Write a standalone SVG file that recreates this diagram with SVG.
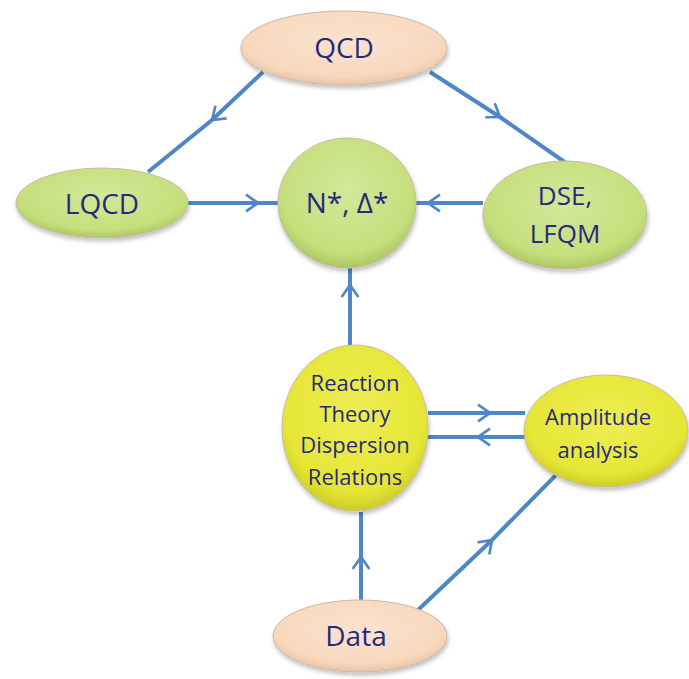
<svg xmlns="http://www.w3.org/2000/svg" width="689" height="679" viewBox="0 0 689 679">
<style>
.c{fill:none;stroke:#4f86c6;stroke-width:4;marker-mid:url(#chev)}
.t{font-family:"Open Sans","Liberation Sans",sans-serif;fill:#262a7a;text-anchor:middle}
.n{stroke:#c9b9a8;stroke-width:1}
</style>
<defs>
<marker id="chev" viewBox="0 0 12 16" refX="11" refY="8" markerWidth="3.6" markerHeight="4.8" orient="auto" markerUnits="strokeWidth">
<path d="M1,1 L11,8 L1,15" fill="none" stroke="#4f86c6" stroke-width="2.2"/>
</marker>
<radialGradient id="peach" cx="50%" cy="40%" r="60%">
<stop offset="0" stop-color="#fbe3cf"/><stop offset="0.8" stop-color="#f8d8bd"/><stop offset="1" stop-color="#e9c4a6"/>
</radialGradient>
<radialGradient id="green" cx="50%" cy="40%" r="60%">
<stop offset="0" stop-color="#d3e89a"/><stop offset="0.8" stop-color="#c5df7c"/><stop offset="1" stop-color="#a9c762"/>
</radialGradient>
<radialGradient id="yellow" cx="50%" cy="40%" r="60%">
<stop offset="0" stop-color="#eded55"/><stop offset="0.8" stop-color="#e6e636"/><stop offset="1" stop-color="#cccc2a"/>
</radialGradient>
<filter id="sh" x="-10%" y="-10%" width="125%" height="130%">
<feDropShadow dx="1" dy="3" stdDeviation="2" flood-color="#000" flood-opacity="0.25"/>
</filter>
</defs>
<g id="connectors">
<path class="c" d="M263,72 L212,120 L148,172"/>
<path class="c" d="M430,72 L500,117 L566,163"/>
<path class="c" d="M188,203 L258,203 L278,203"/>
<path class="c" d="M483,203 L428,203 L416,203"/>
<path class="c" d="M350,345 L350,285 L350,268"/>
<path class="c" d="M428,413 L490,413 L525,413"/>
<path class="c" d="M525,437 L478,437 L428,437"/>
<path class="c" d="M361,601 L361,557 L361,512"/>
<path class="c" d="M418,610 L492,540 L556,475"/>
</g>
<g id="qcd"><ellipse class="n" cx="344" cy="48" rx="103" ry="37" fill="url(#peach)" filter="url(#sh)"/><text class="t" x="344" y="58" font-size="28">QCD</text></g>
<g id="lqcd"><ellipse class="n" cx="102" cy="203" rx="86" ry="35" fill="url(#green)" filter="url(#sh)"/><text class="t" x="102" y="214" font-size="28">LQCD</text></g>
<g id="nstar"><ellipse class="n" cx="347" cy="203" rx="69" ry="65" fill="url(#green)" filter="url(#sh)"/><text class="t" x="347" y="213" font-size="28">N*, Δ*</text></g>
<g id="dse"><ellipse class="n" cx="565" cy="215" rx="82" ry="54" fill="url(#green)" filter="url(#sh)"/><text class="t" x="565" y="205" font-size="26">DSE,</text><text class="t" x="565" y="243" font-size="26">LFQM</text></g>
<g id="reaction"><ellipse class="n" cx="355" cy="428" rx="73" ry="83" fill="url(#yellow)" filter="url(#sh)"/>
<text class="t" x="355" y="391" font-size="22">Reaction</text><text class="t" x="355" y="422" font-size="22">Theory</text><text class="t" x="355" y="453" font-size="22">Dispersion</text><text class="t" x="355" y="485" font-size="22">Relations</text></g>
<g id="amplitude"><ellipse class="n" cx="606" cy="431" rx="82" ry="56" fill="url(#yellow)" filter="url(#sh)"/><text class="t" x="598" y="425" font-size="22">Amplitude</text><text class="t" x="598" y="458" font-size="22">analysis</text></g>
<g id="data"><ellipse class="n" cx="360" cy="636" rx="87" ry="36" fill="url(#peach)" filter="url(#sh)"/><text class="t" x="356" y="646" font-size="28">Data</text></g>
</svg>
